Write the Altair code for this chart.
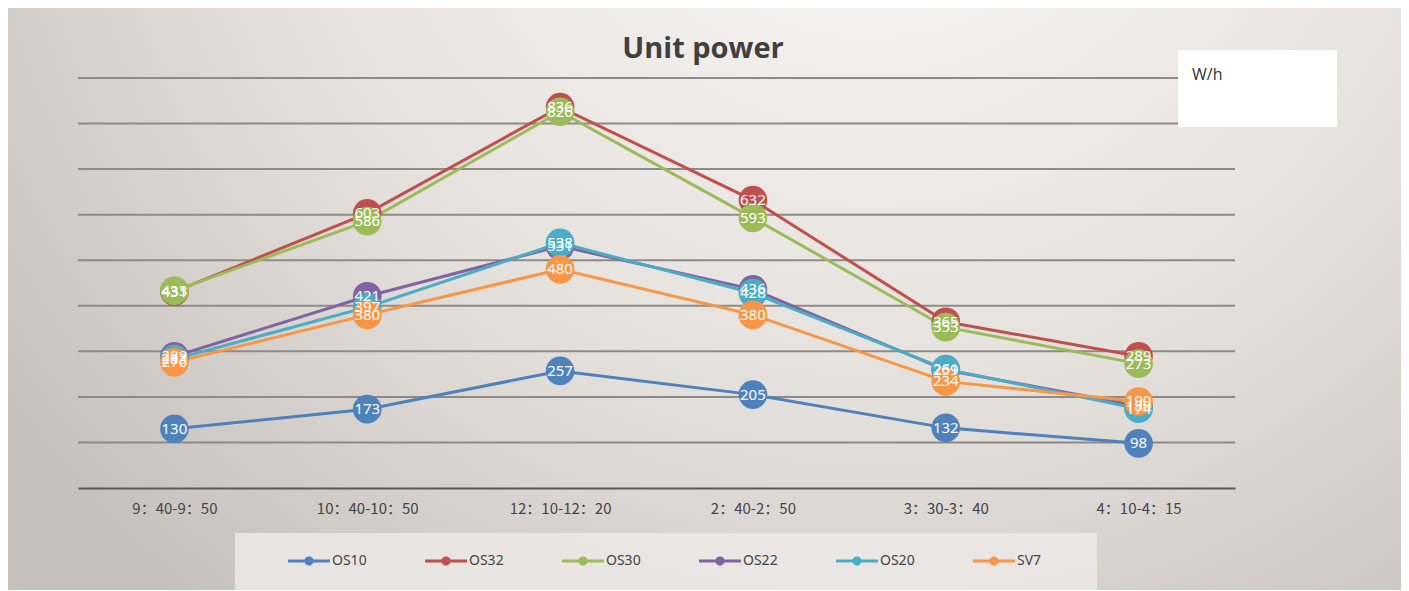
import altair as alt
import pandas as pd

times = ["9：40-9：50", "10：40-10：50", "12：10-12：20", "2：40-2：50", "3：30-3：40", "4：10-4：15"]
series = ["OS10", "OS32", "OS30", "OS22", "OS20", "SV7"]
os10 = [130, 173, 257, 205, 132, 98]
os32 = [431, 603, 836, 632, 365, 289]
os30 = [433, 586, 826, 593, 353, 273]
os22 = [289, 421, 531, 436, 259, 180]
os20 = [283, 397, 538, 428, 261, 174]
sv7 = [276, 380, 480, 380, 234, 190]
colors = ["#4F81BD", "#C0504D", "#9BBB59", "#8064A2", "#4BACC6", "#F79646"]
grid_ticks = [100, 200, 300, 400, 500, 600, 700, 800, 900]
title_text = "Unit power"
unit_text = "W/h"

values = [os10, os32, os30, os22, os20, sv7]
rows = []
for si, (s, vals) in enumerate(zip(series, values)):
    for ti, (t, v) in enumerate(zip(times, vals)):
        rows.append({"time": t, "series": s, "value": v, "order": si * 10 + ti})
df = pd.DataFrame(rows)

one = pd.DataFrame({"k": [0]})
yscale = alt.Scale(domain=[0, 900], nice=False, zero=True)

bg = alt.Chart(one).mark_rect(
    color=alt.RadialGradient(
        gradient="radial",
        stops=[
            alt.GradientStop(color="#fbfaf9", offset=0),
            alt.GradientStop(color="#e6e2de", offset=0.55),
            alt.GradientStop(color="#c6c0bc", offset=1),
        ],
        x1=0.62, y1=0.12, x2=0.62, y2=0.12, r1=0, r2=0.78,
    )
).encode(x=alt.value(-70), x2=alt.value(1323), y=alt.value(-70), y2=alt.value(512))

grid = alt.Chart(pd.DataFrame({"tick": grid_ticks})).mark_rule(
    color="#8e8a87", strokeWidth=2
).encode(y=alt.Y("tick:Q", scale=yscale, axis=None))

xenc = alt.X("time:N", sort=times, scale=alt.Scale(type="point", padding=0.5),
             axis=alt.Axis(title=None, labelAngle=0, ticks=False, domain=True,
                           domainColor="#595959", domainWidth=2, grid=False,
                           labelPadding=13, labelFont="Noto Sans CJK SC",
                           labelFontSize=15, labelColor="#454545", zindex=1))
yenc = alt.Y("value:Q", scale=yscale, axis=None)
cenc = alt.Color("series:N", sort=series,
                 scale=alt.Scale(domain=series, range=colors),
                 legend=alt.Legend(
                     title=None, orient="none", direction="horizontal", columns=6,
                     legendX=210, legendY=462, padding=0,
                     symbolType="M-1,-0.07H1V0.07H-1Z M0.22,0A0.22,0.22,0,1,1,-0.22,0A0.22,0.22,0,1,1,0.22,0Z",
                     symbolSize=1764, symbolStrokeWidth=0, columnPadding=58,
                     labelOffset=2, labelFont="Noto Sans", labelFontSize=14,
                     labelColor="#454545"))

legend_box = alt.Chart(one).mark_rect(color="#ece9e6", opacity=0.85).encode(
    x=alt.value(157), x2=alt.value(1019), y=alt.value(455), y2=alt.value(512))

base = alt.Chart(df)
lines = base.mark_line(strokeWidth=3).encode(x=xenc, y=yenc, color=cenc, order="order:Q")
points = base.mark_point(filled=True, size=820, opacity=1).encode(
    x=xenc, y=yenc, color=cenc, order="order:Q")
labels = base.mark_text(color="white", font="Noto Sans", fontSize=15,
                        baseline="middle", align="center").encode(
    x=xenc, y=yenc, text="value:Q", order="order:Q")

unit_box = alt.Chart(one).mark_rect(color="white").encode(
    x=alt.value(1100), x2=alt.value(1259), y=alt.value(-28), y2=alt.value(49))
unit_label = alt.Chart(one).mark_text(
    text=unit_text, font="Open Sans", fontSize=16, color="#333333",
    align="left", baseline="alphabetic").encode(x=alt.value(1114), y=alt.value(2))
title = alt.Chart(one).mark_text(
    text=title_text, font="Open Sans", fontSize=29, fontWeight="bold",
    color="#404040", align="center", baseline="alphabetic").encode(
    x=alt.value(625), y=alt.value(-20))

chart = alt.layer(bg, legend_box, grid, lines, points, labels, unit_box, unit_label, title).properties(
    width=1157, height=410,
    autosize=alt.AutoSizeParams(type="none"),
    padding={"left": 70, "top": 70, "right": 166, "bottom": 102},
).configure(background="#d8d4d0").configure_view(stroke=None)

chart.save("out.html", embed_options={"renderer": "svg", "actions": False})
